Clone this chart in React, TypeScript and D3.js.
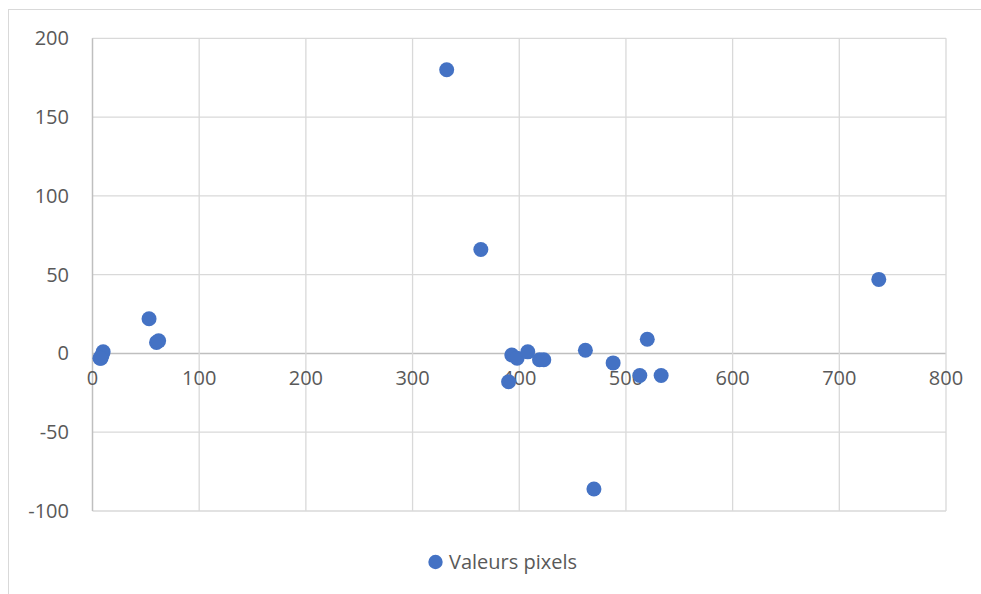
import React from "react";
import * as d3 from "d3";

const xValues = [332, 364, 737, 53, 60, 62, 10, 9, 8, 7, 393, 398, 408, 419, 423, 462, 488, 520, 513, 533, 390, 470];
const yValues = [180, 66, 47, 22, 7, 8, 1, -1, -3, -3, -1, -3, 1, -4, -4, 2, -6, 9, -14, -14, -18, -86];
const xTicks = [0, 100, 200, 300, 400, 500, 600, 700, 800];
const yTicks = [-100, -50, 0, 50, 100, 150, 200];
const seriesName = "Valeurs pixels";

const W = 981;
const H = 594;
const FONT = "'Open Sans', sans-serif";

export default function App() {
  const x = d3.scaleLinear().domain([0, 800]).range([92.5, 946]);
  const y = d3.scaleLinear().domain([-100, 200]).range([511, 38.3]);
  const points = xValues.map((v, i) => ({ x: v, y: yValues[i] }));
  return (
    <svg
      width={W}
      height={H}
      style={{ position: "absolute", left: 0, top: 0, background: "#fff" }}
    >
      <rect x={8.5} y={9.5} width={1000} height={700} fill="#fff" stroke="#d9d9d9" strokeWidth={1} />
      {yTicks.map((t) => (
        <line key={"gy" + t} x1={x(0)} x2={x(800)} y1={y(t)} y2={y(t)} stroke={t === 0 ? "#bfbfbf" : "#d9d9d9"} strokeWidth={t === 0 ? 1.5 : 1.3} />
      ))}
      {xTicks.map((t) => (
        <line key={"gx" + t} x1={x(t)} x2={x(t)} y1={y(-100)} y2={y(200)} stroke={t === 0 ? "#bfbfbf" : "#d9d9d9"} strokeWidth={t === 0 ? 1.5 : 1.3} />
      ))}
      {yTicks.map((t) => (
        <text key={"ly" + t} x={69} y={y(t)} dy="0.35em" textAnchor="end" fontFamily={FONT} fontSize={20} fill="#595959">
          {t}
        </text>
      ))}
      {xTicks.map((t) => (
        <text key={"lx" + t} x={x(t)} y={y(0) + 32} textAnchor="middle" fontFamily={FONT} fontSize={20} fill="#595959">
          {t}
        </text>
      ))}
      {points.map((p, i) => (
        <circle key={"p" + i} cx={x(p.x)} cy={y(p.y)} r={7.5} fill="#4472C4" />
      ))}
      <circle cx={435.5} cy={562} r={7.2} fill="#4472C4" />
      <text x={449} y={562} dy="0.35em" fontFamily={FONT} fontSize={20} fill="#595959">
        {seriesName}
      </text>
    </svg>
  );
}
